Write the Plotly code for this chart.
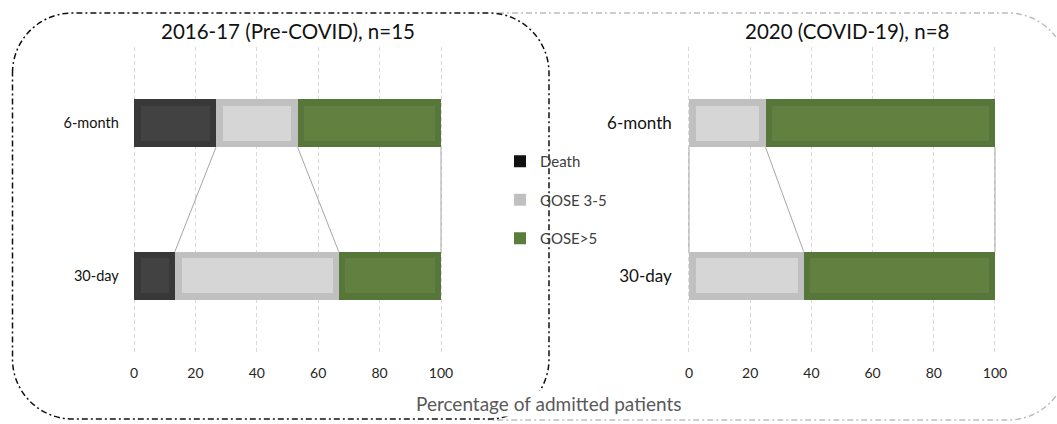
import numpy as np
import plotly.graph_objects as go

# ---------------- data ----------------
categories = ["30-day", "6-month"]          # y positions 0 and 1
outcomes = ["Death", "GOSE 3-5", "GOSE>5"]

pre_death = [13.3, 26.7]
pre_gose35 = [53.4, 26.6]
pre_gose5 = [33.3, 46.7]

covid_death = [0.0, 0.0]
covid_gose35 = [37.5, 25.0]
covid_gose5 = [62.5, 75.0]

x_ticks = [0, 20, 40, 60, 80, 100]
panel_titles = ["2016-17 (Pre-COVID), n=15", "2020 (COVID-19), n=8"]
x_title = "Percentage of admitted patients"

# ---------------- style ----------------
W, H = 1057, 424
FONT = "Lato"
outer_cols = ["#383838", "#c0c0c0", "#56763a"]
inner_cols = ["#424242", "#d6d6d6", "#62803f"]
legend_cols = ["#111111", "#c0c0c0", "#5a7d3a"]
BAR_W = 0.315
INSET_X = 2.1      # data units (~6.5 px)
INSET_Y = 0.043    # category units (~6.5 px)
PAD = 0.4          # tiny range padding so edge gridlines are kept

def px(x):
    return x / W

def py(y):
    return 1 - y / H

fig = go.Figure()

panels = [
    ([pre_death, pre_gose35, pre_gose5], "x", "y"),
    ([covid_death, covid_gose35, covid_gose5], "x2", "y2"),
]
ypos = np.arange(len(categories))

for pi, (series, xa, ya) in enumerate(panels):
    arr = np.array(series, dtype=float)
    ends = np.cumsum(arr, axis=0)
    starts = ends - arr
    # series (connector) lines between the two bars
    for si in range(len(outcomes)):
        fig.add_trace(go.Scatter(
            x=[ends[si][1], ends[si][0]],
            y=[ypos[1] - BAR_W / 2, ypos[0] + BAR_W / 2],
            mode="lines", line=dict(color="#a6a6a6", width=1),
            showlegend=False, hoverinfo="skip", xaxis=xa, yaxis=ya))
    for si, name in enumerate(outcomes):
        fig.add_trace(go.Bar(
            y=ypos, x=arr[si], base=starts[si], orientation="h",
            width=BAR_W, name=name,
            marker=dict(color=outer_cols[si], line=dict(width=0)),
            legendgroup=name, showlegend=False,
            hoverinfo="skip", xaxis=xa, yaxis=ya))
        fig.add_trace(go.Bar(
            y=ypos, x=np.maximum(arr[si] - 2 * INSET_X, 0),
            base=starts[si] + INSET_X, orientation="h",
            width=BAR_W - 2 * INSET_Y, name=name,
            marker=dict(color=inner_cols[si], line=dict(width=0)),
            legendgroup=name, showlegend=False,
            hoverinfo="skip", xaxis=xa, yaxis=ya))

# legend keys
for si, name in enumerate(outcomes):
    fig.add_trace(go.Bar(
        y=[None], x=[None], orientation="h", name=name,
        marker=dict(color=legend_cols[si], line=dict(width=0)),
        legendgroup=name, showlegend=True, xaxis="x", yaxis="y"))

ydom = [py(352), py(47)]
xcommon = dict(range=[-PAD, 100 + PAD], tickvals=x_ticks, showgrid=True,
               gridcolor="#d9d9d9", griddash="4px,3px", gridwidth=1,
               zeroline=False, showline=False, ticks="", automargin=False,
               tickfont=dict(family=FONT, size=14, color="#262626"),
               ticklabelstandoff=11, fixedrange=True)
ycommon = dict(range=[-0.5, 1.5], tickvals=list(ypos), ticktext=categories,
               showgrid=False, zeroline=False, showline=False, ticks="",
               automargin=False, fixedrange=True)

def xdom(x0, x100):
    ppu = (x100 - x0) / 100.0
    return [px(x0 - PAD * ppu), px(x100 + PAD * ppu)]

fig.update_layout(
    width=W, height=H, autosize=False,
    margin=dict(l=0, r=0, t=0, b=0, pad=0, autoexpand=False),
    paper_bgcolor="white", plot_bgcolor="rgba(0,0,0,0)",
    barmode="overlay", bargap=0,
    font=dict(family=FONT, color="#222222"),
    xaxis=dict(domain=xdom(134, 441), anchor="y", **xcommon),
    yaxis=dict(domain=ydom, anchor="x",
               tickfont=dict(family=FONT, size=14.5, color="#111111"),
               ticklabelstandoff=13, **ycommon),
    xaxis2=dict(domain=xdom(689, 995), anchor="y2", **xcommon),
    yaxis2=dict(domain=ydom, anchor="x2",
                tickfont=dict(family=FONT, size=17, color="#111111"),
                ticklabelstandoff=15, **ycommon),
    showlegend=True,
    legend=dict(x=px(500), y=py(145), xanchor="left", yanchor="top",
                font=dict(family=FONT, size=15, color="#404040"),
                tracegroupgap=16, itemwidth=30, bgcolor="rgba(0,0,0,0)",
                traceorder="grouped"),
)

# panel titles and shared axis title
fig.add_annotation(text=panel_titles[0], x=px(288), y=py(31), xref="paper",
                   yref="paper", showarrow=False, xanchor="center",
                   yanchor="middle",
                   font=dict(family=FONT, size=20.5, color="#111111"))
fig.add_annotation(text=panel_titles[1], x=px(847), y=py(31), xref="paper",
                   yref="paper", showarrow=False, xanchor="center",
                   yanchor="middle",
                   font=dict(family=FONT, size=20.5, color="#111111"))
fig.add_annotation(text=x_title, x=px(548), y=py(403), xref="paper",
                   yref="paper", showarrow=False, bgcolor="white",
                   xanchor="center", yanchor="middle",
                   font=dict(family=FONT, size=19, color="#595959"))

# decorative rounded dash-dot frames (kept inside the page)
K = 0.5523

def rounded_closed(L, T, R, B, r):
    pts = [
        f"M{px(L)},{py(T + r)}",
        f"C{px(L)},{py(T + r - K * r)} {px(L + r - K * r)},{py(T)} {px(L + r)},{py(T)}",
        f"L{px(R - r)},{py(T)}",
        f"C{px(R - r + K * r)},{py(T)} {px(R)},{py(T + r - K * r)} {px(R)},{py(T + r)}",
        f"L{px(R)},{py(B - r)}",
        f"C{px(R)},{py(B - r + K * r)} {px(R - r + K * r)},{py(B)} {px(R - r)},{py(B)}",
        f"L{px(L + r)},{py(B)}",
        f"C{px(L + r - K * r)},{py(B)} {px(L)},{py(B - r + K * r)} {px(L)},{py(B - r)}",
        "Z",
    ]
    return " ".join(pts)

def arc_pts(cx, cy, r, a0, a1, xmax, n=30):
    out = []
    for a in np.linspace(a0, a1, n):
        x = cx + r * np.cos(a)
        y = cy + r * np.sin(a)
        if x <= xmax:
            out.append((x, y))
    return out

def right_open(xs_top, xs_bot, T, R, B, r, xmax):
    seg = [f"M{px(xs_top)},{py(T)}", f"L{px(R - r)},{py(T)}"]
    for (x, y) in arc_pts(R - r, T + r, r, -np.pi / 2, 0, xmax):
        seg.append(f"L{px(x)},{py(y)}")
    bottom = arc_pts(R - r, B - r, r, 0, np.pi / 2, xmax)
    seg.append(f"M{px(bottom[0][0])},{py(bottom[0][1])}")
    for (x, y) in bottom[1:]:
        seg.append(f"L{px(x)},{py(y)}")
    seg.append(f"L{px(xs_bot)},{py(B)}")
    return " ".join(seg)

fig.add_shape(type="path", xref="paper", yref="paper", layer="below",
              path=right_open(498, 488, 13, 1068, 420, 60, 1056),
              line=dict(color="#bdbdbd", width=1.5, dash="6px,3px,2px,3px"))
fig.add_shape(type="path", xref="paper", yref="paper", layer="below",
              path=rounded_closed(12.5, 13, 549, 419, 60),
              line=dict(color="#111111", width=1.5, dash="6px,3px,2px,3px"))

fig.write_html(
    "out.html",
    config={"displayModeBar": False},
    post_script="document.body.style.margin='0';"
                "document.body.style.overflow='hidden';",
)
